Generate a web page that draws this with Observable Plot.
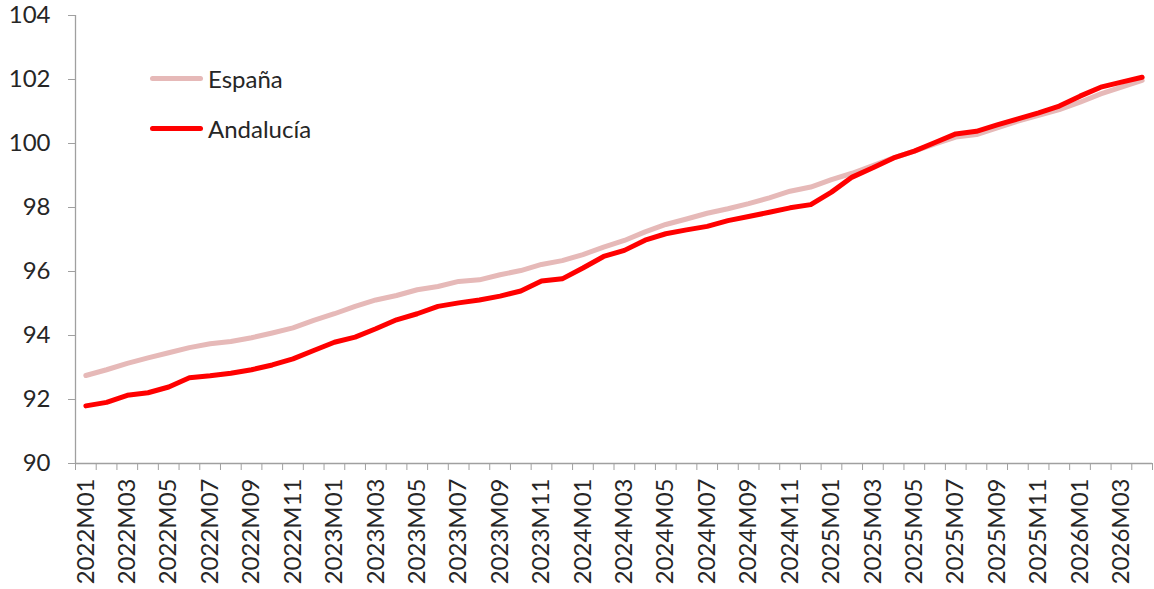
<!DOCTYPE html>
<html>
<head>
<meta charset="utf-8">
<script src="https://cdn.jsdelivr.net/npm/d3@7"></script>
<script src="https://cdn.jsdelivr.net/npm/@observablehq/plot@0.6"></script>
<style>
  html, body { margin: 0; padding: 0; background: #fff; }
  #wrap { position: relative; width: 1154px; height: 589px; font-family: Lato, "Open Sans", sans-serif; }
  #legend { position: absolute; left: 150px; top: 53px; font-size: 24px; color: #262626; }
  .item { display: flex; align-items: center; height: 50px; }
  .sw { width: 53px; height: 5px; border-radius: 3px; margin-right: 5px; }
</style>
</head>
<body>
<div id="wrap"></div>
<script>
const months = [
  "2022M01","2022M02","2022M03","2022M04","2022M05","2022M06","2022M07","2022M08","2022M09","2022M10","2022M11","2022M12",
  "2023M01","2023M02","2023M03","2023M04","2023M05","2023M06","2023M07","2023M08","2023M09","2023M10","2023M11","2023M12",
  "2024M01","2024M02","2024M03","2024M04","2024M05","2024M06","2024M07","2024M08","2024M09","2024M10","2024M11","2024M12",
  "2025M01","2025M02","2025M03","2025M04","2025M05","2025M06","2025M07","2025M08","2025M09","2025M10","2025M11","2025M12",
  "2026M01","2026M02","2026M03","2026M04"
];
const espana = [
  92.75, 92.93, 93.13, 93.30, 93.46, 93.62, 93.74, 93.81, 93.93, 94.08,
  94.24, 94.47, 94.68, 94.91, 95.11, 95.25, 95.43, 95.53, 95.69, 95.74,
  95.90, 96.03, 96.22, 96.34, 96.53, 96.76, 96.97, 97.24, 97.47, 97.64,
  97.82, 97.96, 98.12, 98.30, 98.51, 98.64, 98.87, 99.07, 99.31, 99.55,
  99.76, 99.99, 100.20, 100.28, 100.49, 100.70, 100.88, 101.06, 101.29, 101.55,
  101.76, 101.97
];
const andalucia = [
  91.80, 91.91, 92.13, 92.21, 92.39, 92.68, 92.74, 92.82, 92.93, 93.08,
  93.27, 93.53, 93.79, 93.95, 94.21, 94.49, 94.68, 94.91, 95.02, 95.11,
  95.23, 95.39, 95.70, 95.77, 96.11, 96.47, 96.66, 96.98, 97.18, 97.30,
  97.41, 97.59, 97.72, 97.85, 97.99, 98.09, 98.48, 98.95, 99.24, 99.55,
  99.76, 100.03, 100.30, 100.38, 100.58, 100.77, 100.96, 101.17, 101.48, 101.76,
  101.92, 102.07
];
const yTicks = [90, 92, 94, 96, 98, 100, 102, 104];
const seriesNames = ["España", "Andalucía"];
const seriesColors = ["#e6b9b8", "#ff0000"];

const idx = months.map((m, i) => i);
const labelIdx = idx.filter(i => i % 2 === 0);
const boundaries = d3.range(-0.5, months.length, 1);
const axisColor = "#a0a0a0";
const textColor = "#262626";

const chart = Plot.plot({
  width: 1154,
  height: 589,
  marginLeft: 75,
  marginRight: 2,
  marginTop: 15,
  marginBottom: 126,
  style: { fontFamily: "Lato, 'Open Sans', sans-serif", background: "#fff" },
  x: { type: "linear", domain: [-0.5, months.length - 0.5] },
  y: { domain: [90, 104] },
  marks: [
    Plot.axisY(yTicks, { tickSize: 7, tickPadding: 18, fontSize: 24, color: textColor, stroke: axisColor, tickFormat: d => d, label: null }),
    Plot.ruleX([-0.5], { stroke: axisColor, strokeWidth: 1.3 }),
    Plot.ruleY([90], { stroke: axisColor, strokeWidth: 1.3 }),
    Plot.axisX(boundaries, { tickSize: 7, stroke: axisColor, tickFormat: () => "", label: null }),
    Plot.text(labelIdx, {
      x: d => d, frameAnchor: "bottom", text: d => months[d],
      rotate: -90, textAnchor: "end", lineAnchor: "middle", dy: 15,
      fontSize: 24, fill: textColor
    }),
    Plot.line(idx, { x: d => d, y: d => espana[d], stroke: seriesColors[0], strokeWidth: 5, strokeLinejoin: "round", strokeLinecap: "round" }),
    Plot.line(idx, { x: d => d, y: d => andalucia[d], stroke: seriesColors[1], strokeWidth: 5, strokeLinejoin: "round", strokeLinecap: "round" })
  ]
});

const wrap = document.getElementById("wrap");
wrap.appendChild(chart);
const legend = document.createElement("div");
legend.id = "legend";
seriesNames.forEach((n, k) => {
  const it = document.createElement("div");
  it.className = "item";
  const sw = document.createElement("div");
  sw.className = "sw";
  sw.style.background = seriesColors[k];
  const t = document.createElement("span");
  t.textContent = n;
  it.appendChild(sw);
  it.appendChild(t);
  legend.appendChild(it);
});
wrap.appendChild(legend);
</script>
</body>
</html>
